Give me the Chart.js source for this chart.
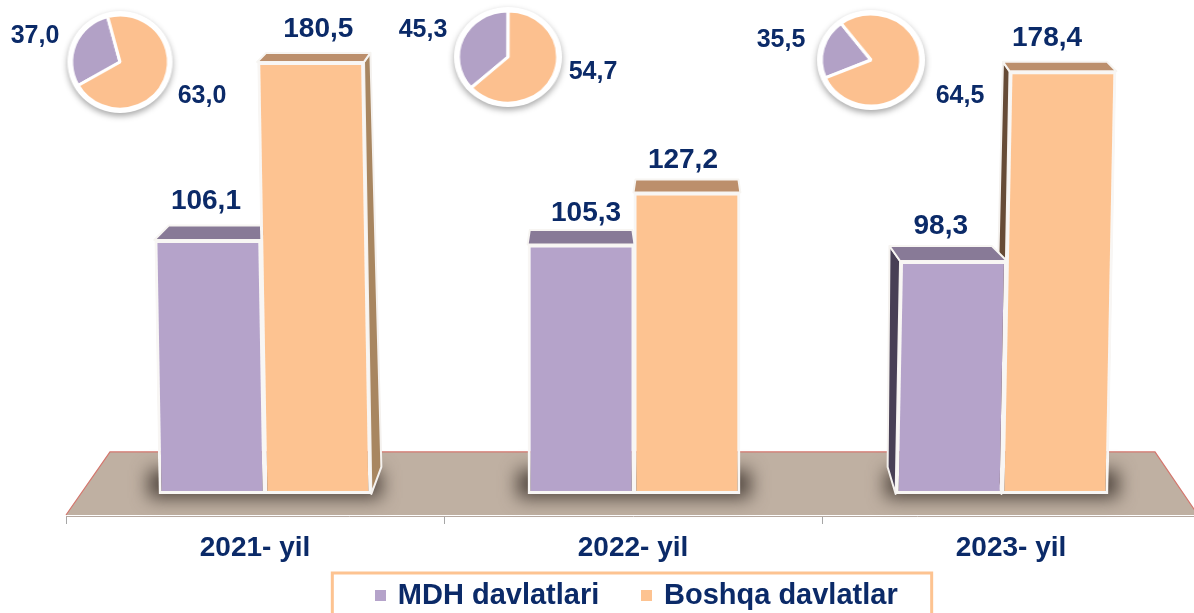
<!DOCTYPE html>
<html>
<head>
<meta charset="utf-8">
<script src="https://cdn.jsdelivr.net/npm/chart.js@4"></script>
<style>
    html, body { margin: 0; padding: 0; background: #fff; overflow: hidden; width: 1194px; height: 613px; }
    #wrap { position: relative; width: 1194px; height: 613px; overflow: hidden; }
    #main { position: absolute; left: 0; top: 0; }
    .pie { position: absolute; }
</style>
</head>
<body>
<div id="wrap">
    <canvas id="main" width="1200" height="620"></canvas>
    <canvas id="pie0" class="pie" width="130" height="130"></canvas>
    <canvas id="pie1" class="pie" width="130" height="130"></canvas>
    <canvas id="pie2" class="pie" width="130" height="130"></canvas>
</div>
<script>
// data
const years = ['2021- yil', '2022- yil', '2023- yil'];
const seriesNames = ['MDH davlatlari', 'Boshqa davlatlar'];
const mdhValues = [106.1, 105.3, 98.3];
const boshqaValues = [180.5, 127.2, 178.4];
// printed shares
const mdhShares = [37.0, 45.3, 35.5];
const boshqaShares = [63.0, 54.7, 64.5];
// slices as they are drawn in the picture (they are smaller than the printed shares)
const mdhSlices = [29.2, 36.7, 21.1];
const boshqaSlices = [70.8, 63.3, 78.9];
const sliceRotation = [240, 228, 247];

// styles
const NAVY = '#0B2A68';
const LILAC = '#B5A3CA';
const PEACH = '#FDC391';
const FONT = '"Liberation Sans", Arial, sans-serif';
const topColors = ['#887A97', '#BC8F6C'];
const sideRightColors = [null, '#A88660'];
const sideLeftColors = ['#483F55', '#664B36'];
// 3d look per year: sideways shift, lean and stretch of the bars, depth direction, foot of the side face
const barShift = [10, 1, -9];
const barLean = [-0.017, 0, 0.019];
const barStretch = [1.01, 1, 1];
const depthSlope = [0.85, 0, -0.85];
const footDx = [10, 0, -8];
// the value labels were placed by hand in the original: [dx, dy] per series, per year
const labelNudge = [
    [[-7, -4], [5, 3], [0, 0]],
    [[0, -4], [-4, 1], [-8, -4]],
];
const pieBoxes = [
    { x: 120, y: 62, r: 47, sx: 1.03, labels: [[35, 36], [202, 96]] },
    { x: 508, y: 57, r: 46, sx: 1.08, labels: [[423, 30], [593, 72]] },
    { x: 871, y: 60, r: 46, sx: 1.08, labels: [[781, 40], [960, 96]] },
];

const fmt = v => v.toFixed(1).replace('.', ',');

// front faces lean outwards a little, like in the 3d original
const origBarDraw = Chart.BarElement.prototype.draw;
Chart.BarElement.prototype.draw = function (ctx) {
    const i = this.$cat;
    const lean = barLean[i] || 0;
    const st = barStretch[i] || 1;
    ctx.save();
    ctx.transform(1, 0, -lean, st, (barShift[i] || 0) + lean * this.base, this.base * (1 - st));
    origBarDraw.call(this, ctx);
    ctx.restore();
};

function barGeom(el, i) {
    const half = el.width / 2;
    const top = el.base - (el.base - el.y) * barStretch[i];
    const dy = 9 + 0.03 * (top - 60);
    const xAt = (x, y) => x + barShift[i] + barLean[i] * (el.base - y);
    const fl = xAt(el.x - half, top);
    const fr = xAt(el.x + half, top);
    return {
        top, base: el.base, fl, fr,
        backY: top - dy,
        bl: fl + dy * (depthSlope[i] + 0.15),
        br: fr + dy * (depthSlope[i] - 0.15),
        baseL: xAt(el.x - half, el.base),
        baseR: xAt(el.x + half, el.base),
    };
}

function poly(ctx, pts, fill, stroke) {
    ctx.beginPath();
    pts.forEach((p, k) => k ? ctx.lineTo(p[0], p[1]) : ctx.moveTo(p[0], p[1]));
    ctx.closePath();
    ctx.fillStyle = fill;
    ctx.fill();
    if (stroke) {
        ctx.strokeStyle = stroke;
        ctx.lineWidth = 2;
        ctx.stroke();
    }
}

const scene = {
    id: 'scene',
    afterLayout(chart) {
        // legend sits a bit right of the axis centre
        chart.legend.left += 9;
    },
    beforeDraw(chart) {
        const { ctx, chartArea, scales } = chart;
        // floor
        const front = chartArea.bottom - 1;
        const back = scales.y.getPixelForValue(0) - 42;
        ctx.save();
        poly(ctx, [[chartArea.left, front], [chartArea.left + 44, back], [1155, back], [chartArea.right - 2, front]], '#BFB0A2');
        ctx.beginPath();
        ctx.moveTo(chartArea.left, front);
        ctx.lineTo(chartArea.left + 44, back);
        ctx.lineTo(1155, back);
        ctx.lineTo(chartArea.right - 2, front);
        ctx.strokeStyle = '#D4756C';
        ctx.lineWidth = 1.2;
        ctx.stroke();
        // shadows under the bars
        const m0 = chart.getDatasetMeta(0).data, m1 = chart.getDatasetMeta(1).data;
        ctx.filter = 'blur(9px)';
        ctx.fillStyle = 'rgba(66,56,50,0.9)';
        m0.forEach((el, i) => {
            el.$cat = i;
            m1[i].$cat = i;
            const g0 = barGeom(el, i), g1 = barGeom(m1[i], i);
            ctx.fillRect(g0.baseL - 10, g0.base - 24, g1.baseR - g0.baseL + 20, 28);
        });
        ctx.restore();
    },
    beforeDatasetsDraw(chart) {
        const { ctx } = chart;
        ctx.save();
        ctx.lineJoin = 'round';
        [1, 0].forEach(ds => {
            chart.getDatasetMeta(ds).data.forEach((el, i) => {
                const g = barGeom(el, i);
                if (depthSlope[i] > 0 && sideRightColors[ds]) {
                    poly(ctx, [[g.fr, g.top], [g.br, g.backY], [g.baseR + footDx[i], g.base - 27], [g.baseR, g.base]], sideRightColors[ds], '#F4F1EE');
                }
                if (depthSlope[i] < 0) {
                    poly(ctx, [[g.fl, g.top], [g.bl, g.backY], [g.baseL + footDx[i], g.base - 27], [g.baseL, g.base]], sideLeftColors[ds], '#F4F1EE');
                }
                poly(ctx, [[g.fl, g.top], [g.bl, g.backY], [g.br, g.backY], [g.fr, g.top]], topColors[ds], '#F7F5F2');
            });
        });
        ctx.restore();
    },
    afterDatasetsDraw(chart) {
        const { ctx } = chart;
        ctx.save();
        ctx.fillStyle = NAVY;
        ctx.textAlign = 'center';
        ctx.textBaseline = 'middle';
        ctx.font = 'bold 28px ' + FONT;
        chart.data.datasets.forEach((d, ds) => {
            chart.getDatasetMeta(ds).data.forEach((el, i) => {
                const g = barGeom(el, i);
                let right = g.br;
                if (ds === 0) right = Math.min(right, barGeom(chart.getDatasetMeta(1).data[i], i).fl);
                const n = labelNudge[ds][i];
                ctx.fillText(fmt(d.data[i]), (g.bl + right) / 2 + n[0], g.backY - 20 + n[1]);
            });
        });
        ctx.font = 'bold 25px ' + FONT;
        pieBoxes.forEach((p, i) => {
            ctx.fillText(fmt(mdhShares[i]), p.labels[0][0], p.labels[0][1]);
            ctx.fillText(fmt(boshqaShares[i]), p.labels[1][0], p.labels[1][1]);
        });
        ctx.restore();
    },
    afterDraw(chart) {
        // frame round the legend
        const { ctx, legend } = chart;
        const first = legend.legendHitBoxes[0];
        const last = legend.legendHitBoxes[legend.legendHitBoxes.length - 1];
        const x0 = first.left - 45;
        const x1 = last.left + last.width + 34;
        ctx.save();
        ctx.strokeStyle = PEACH;
        ctx.lineWidth = 3;
        ctx.strokeRect(x0, legend.top + 4, x1 - x0, 60);
        ctx.restore();
    }
};

// little square for the legend, the text sits closer to it than a normal box allows
function swatch(color) {
    const c = document.createElement('canvas');
    c.width = 11;
    c.height = 11;
    const g = c.getContext('2d');
    g.fillStyle = color;
    g.fillRect(0, 0, 11, 11);
    return c;
}
const swatches = [swatch(LILAC), swatch(PEACH)];

new Chart(document.getElementById('main'), {
    type: 'bar',
    data: {
        labels: years,
        datasets: [
            { label: seriesNames[0], data: mdhValues, backgroundColor: LILAC },
            { label: seriesNames[1], data: boshqaValues, backgroundColor: PEACH },
        ]
    },
    options: {
        responsive: false,
        animation: false,
        layout: { padding: { left: 66, right: 0, top: 20, bottom: 0 } },
        datasets: {
            bar: {
                categoryPercentage: 0.56,
                barPercentage: 1.01,
                borderColor: '#F8F6F4',
                borderWidth: 3,
                borderSkipped: false,
            }
        },
        plugins: {
            tooltip: { enabled: false },
            legend: {
                position: 'bottom',
                labels: {
                    usePointStyle: true,
                    pointStyleWidth: 6,
                    padding: 12,
                    color: NAVY,
                    font: { family: FONT, size: 29, weight: 'bold' },
                    generateLabels(chart) {
                        const items = Chart.defaults.plugins.legend.labels.generateLabels(chart);
                        return items.map((it, i) => ({ ...it, pointStyle: swatches[i], text: it.text + (i === 0 ? '    ' : '') }));
                    }
                }
            }
        },
        scales: {
            x: {
                afterFit(scale) { scale.height = 53; },
                grid: { drawOnChartArea: false, drawTicks: true, tickLength: 8, color: '#A6A6A6' },
                border: { display: true, color: '#B5A8A0' },
                ticks: { color: NAVY, padding: 7, maxRotation: 0, font: { family: FONT, size: 28, weight: 'bold' } }
            },
            y: { display: false, min: -9.3, max: 200 }
        }
    },
    plugins: [scene]
});

// round white plate with a soft shadow behind every pie
const plate = {
    id: 'plate',
    beforeDraw(chart) {
        const { ctx, width, height } = chart;
        const r = chart.getDatasetMeta(0).data[0].outerRadius;
        ctx.save();
        ctx.shadowColor = 'rgba(0,0,0,0.35)';
        ctx.shadowBlur = 6;
        ctx.shadowOffsetY = 3;
        ctx.fillStyle = '#fff';
        ctx.beginPath();
        ctx.arc(width / 2, height / 2, r + 4, 0, Math.PI * 2);
        ctx.fill();
        ctx.restore();
    }
};

pieBoxes.forEach((p, i) => {
    const cv = document.getElementById('pie' + i);
    new Chart(cv, {
        type: 'pie',
        data: {
            labels: seriesNames,
            datasets: [{
                data: [mdhSlices[i], boshqaSlices[i]],
                backgroundColor: ['#B2A1C6', '#FCC08F'],
                borderColor: '#fff',
                borderWidth: 3,
                radius: p.r,
            }]
        },
        options: {
            responsive: false,
            animation: false,
            rotation: sliceRotation[i],
            plugins: { legend: { display: false }, tooltip: { enabled: false } }
        },
        plugins: [plate]
    });
    cv.style.left = (p.x - 65) + 'px';
    cv.style.top = (p.y - 65) + 'px';
    cv.style.transform = 'scaleX(' + p.sx + ')';
});
</script>
</body>
</html>
